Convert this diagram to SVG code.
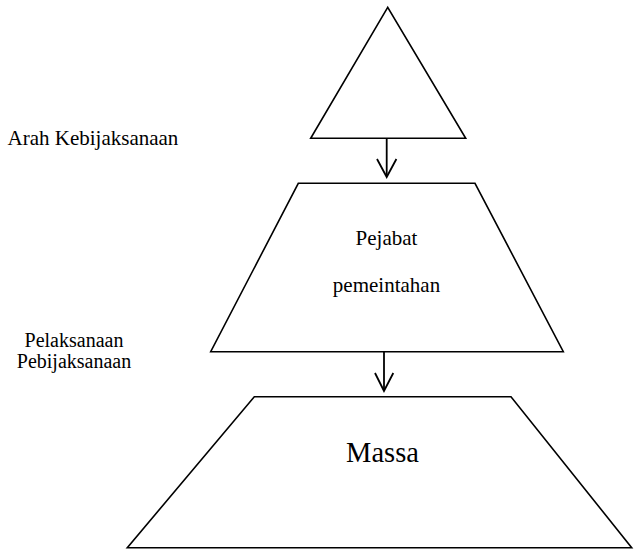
<svg xmlns="http://www.w3.org/2000/svg" width="643" height="549" viewBox="0 0 643 549">
<style>
.shape{fill:#fff;stroke:#000;stroke-width:1.6;stroke-linejoin:miter}
.conn{fill:none;stroke:#000;stroke-width:1.8}
.t{font-family:"Liberation Serif","Times New Roman",serif;font-size:21px;fill:#000}
.c{text-anchor:middle}
</style>
<rect width="643" height="549" fill="#fff"/>
<g id="node-top">
<polygon class="shape" points="387.7,7.3 310.7,138.3 465.7,138.3"/>
</g>
<g id="node-pejabat">
<polygon class="shape" points="298.3,183.3 475,183.3 563.3,351.7 210.7,351.7"/>
<text class="t c" x="386.5" y="244.5">Pejabat</text>
<text class="t c" x="386.5" y="291.5">pemeintahan</text>
</g>
<g id="node-massa">
<polygon class="shape" points="254.3,396.7 511,396.7 631.7,547.7 127.3,547.7"/>
<text class="t c" x="382.5" y="461.7" style="font-size:28.5px">Massa</text>
</g>
<g id="label-arah">
<text class="t" x="7.5" y="145">Arah Kebijaksanaan</text>
</g>
<g id="label-pelaksanaan">
<text class="t c" x="74" y="347" style="font-size:20px">Pelaksanaan</text>
<text class="t c" x="74" y="367.5" style="font-size:20px">Pebijaksanaan</text>
</g>
<g id="connectors">
<line class="conn" x1="386.7" y1="138.3" x2="386.7" y2="176"/>
<polyline class="conn" points="377,159 386.7,177 396.4,159"/>
<line class="conn" x1="384" y1="351.7" x2="384" y2="390"/>
<polyline class="conn" points="375,373 384,391 393.3,373"/>
</g>
</svg>
